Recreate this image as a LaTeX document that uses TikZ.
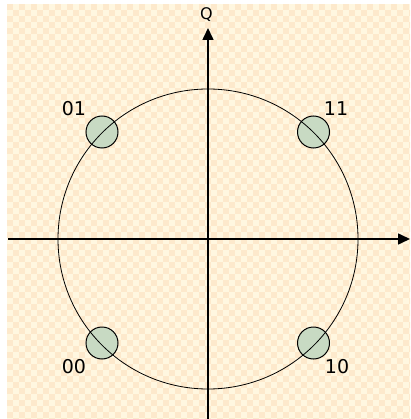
\documentclass[tikz,border=0pt]{standalone}
\usepackage{fontspec}
\setmainfont{DejaVu Sans}
\usetikzlibrary{arrows.meta}
\definecolor{bglight}{RGB}{255,247,224}
\definecolor{bgdark}{RGB}{253,233,204}
\definecolor{dotfill}{RGB}{200,218,195}
\tikzset{
  axis/.style={line width=1.6pt, -{Triangle[length=12pt,width=11pt]}},
  ring/.style={line width=0.8pt},
  pt/.style={circle, draw, line width=1pt, fill=dotfill, minimum size=32pt, inner sep=0pt},
  lab/.style={font=\fontsize{19pt}{21pt}\selectfont, inner sep=0pt},
  qlab/.style={font=\fontsize{16pt}{18pt}\selectfont, inner sep=0pt}
}
\begin{document}
\begin{tikzpicture}[x=1pt,y=-1pt]
\useasboundingbox (0,0) rectangle (410,419);
\fill[white] (0,0) rectangle (410,419);
\begin{scope}
\clip (7,4) rectangle (410,419);
\fill[bglight] (7,4) rectangle (410,419);
\foreach \i in {0,2,...,68} {
  \foreach \j in {0,2,...,70} {
    \fill[bgdark] (7+\i*6,4+\j*6) rectangle ++(6,6);
    \fill[bgdark] (13+\i*6,10+\j*6) rectangle ++(6,6);
  }
}
\end{scope}
\coordinate (c) at (208,239);
\coordinate (xl) at (8,239);
\coordinate (xr) at (410,239);
\coordinate (yb) at (208,419);
\coordinate (yt) at (208,28);
\draw[ring] (c) circle[radius=150];
\node[pt] (p01) at (102,132) {};
\node[pt] (p11) at (313.5,132) {};
\node[pt] (p00) at (102,343) {};
\node[pt] (p10) at (313.5,343) {};
\foreach \p in {p01,p11,p00,p10} {
  \begin{scope}
  \clip (\p.center) circle[radius=16];
  \draw[ring] (c) circle[radius=150];
  \end{scope}
}
\draw[axis] (xl) -- (xr);
\draw[axis] (yb) -- (yt);
\node[qlab] (q) at (206.5,15) {Q};
\node[lab] (l01) at (74,109) {01};
\node[lab] (l11) at (336,109) {11};
\node[lab] (l00) at (74,367) {00};
\node[lab] (l10) at (337,367) {10};
\end{tikzpicture}
\end{document}
